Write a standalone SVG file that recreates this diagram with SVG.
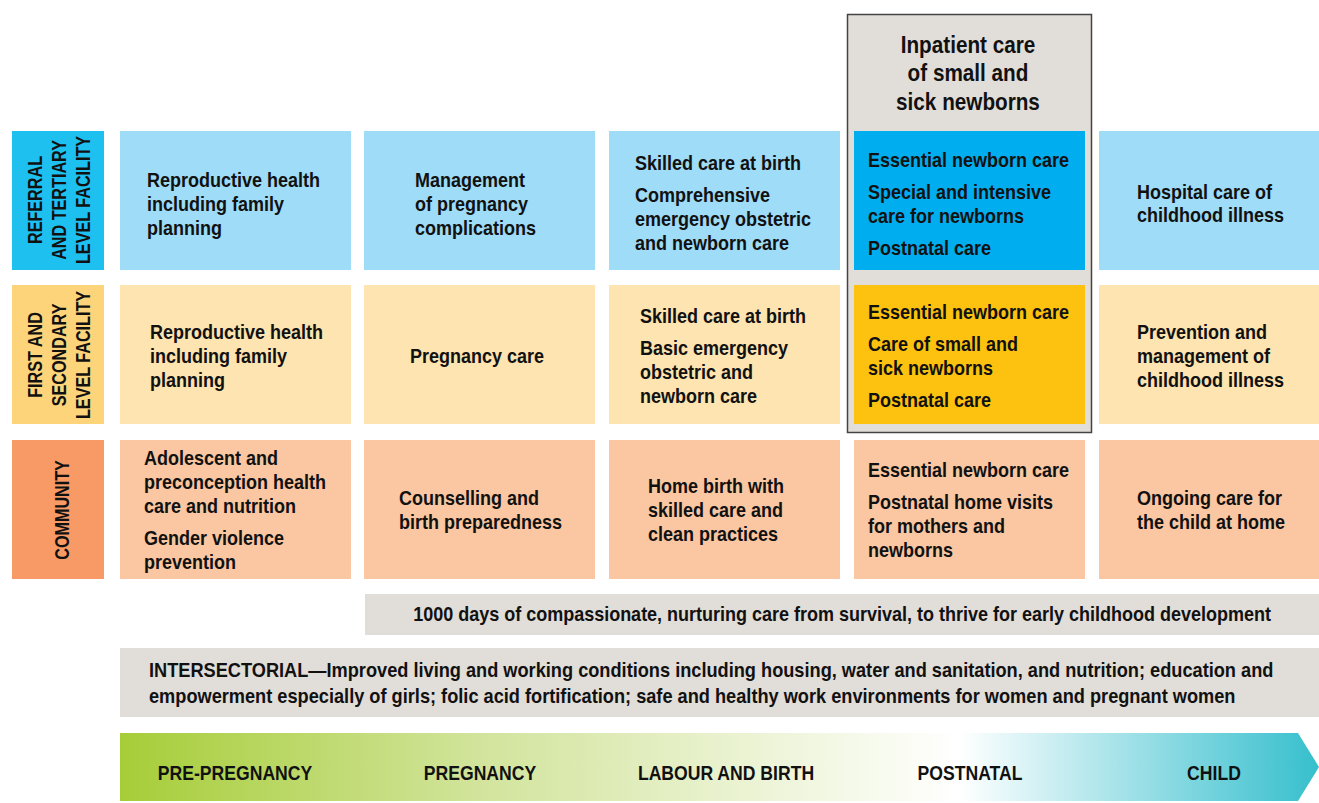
<svg xmlns="http://www.w3.org/2000/svg" width="1319" height="803" viewBox="0 0 1319 803">
<style>
text{font-family:"Liberation Sans",Arial,sans-serif;font-weight:bold;font-size:20px;fill:#111;transform-box:fill-box;transform-origin:0% 50%;transform:scaleX(0.9)}
.c{text-anchor:middle;transform-origin:50% 50%}
.lab{font-size:21px;transform:scaleX(0.77)}
.ph{font-size:20px;transform:scaleX(0.88)}
.hd{font-size:23px}
.is{transform:scaleX(0.91)}
.r1{fill:#9fdcf7}.r2{fill:#fde4b0}.r3{fill:#fac7a2}
</style>
<defs>
<linearGradient id="g" x1="120" y1="0" x2="1319" y2="0" gradientUnits="userSpaceOnUse">
<stop offset="0" stop-color="#a6cd38"/>
<stop offset="0.3" stop-color="#d2e49c"/>
<stop offset="0.7" stop-color="#ffffff"/>
<stop offset="1" stop-color="#36bfcd"/>
</linearGradient>
</defs>
<g id="inpatient">
<rect x="847.5" y="14.5" width="244" height="418" fill="#e1ddd8" stroke="#444" stroke-width="1.5"/>
<text class="c hd" x="968" y="53">Inpatient care</text>
<text class="c hd" x="968" y="81">of small and</text>
<text class="c hd" x="968" y="110">sick newborns</text>
</g>
<g id="row-labels">
<rect x="12" y="131" width="92" height="139" fill="#1ec0ef"/>
<g transform="translate(42,200) rotate(-90)"><text class="c lab" x="0" y="0">REFERRAL</text></g>
<g transform="translate(66,200) rotate(-90)"><text class="c lab" x="0" y="0">AND TERTIARY</text></g>
<g transform="translate(90,200) rotate(-90)"><text class="c lab" x="0" y="0">LEVEL FACILITY</text></g>
<rect x="12" y="285" width="92" height="139" fill="#fdd47a"/>
<g transform="translate(42,355) rotate(-90)"><text class="c lab" x="0" y="0">FIRST AND</text></g>
<g transform="translate(66,355) rotate(-90)"><text class="c lab" x="0" y="0">SECONDARY</text></g>
<g transform="translate(90,355) rotate(-90)"><text class="c lab" x="0" y="0">LEVEL FACILITY</text></g>
<rect x="12" y="440" width="92" height="139" fill="#f79a66"/>
<g transform="translate(69,510) rotate(-90)"><text class="c lab" x="0" y="0">COMMUNITY</text></g>
</g>
<g id="row1">
<rect class="r1" x="120" y="131" width="231" height="139"/>
<text x="147" y="187">Reproductive health</text><text x="147" y="211">including family</text><text x="147" y="235">planning</text>
<rect class="r1" x="364" y="131" width="231" height="139"/>
<text x="415" y="187">Management</text><text x="415" y="211">of pregnancy</text><text x="415" y="235">complications</text>
<rect class="r1" x="609" y="131" width="231" height="139"/>
<text x="635" y="170">Skilled care at birth</text><text x="635" y="202">Comprehensive</text><text x="635" y="226">emergency obstetric</text><text x="635" y="250">and newborn care</text>
<rect x="854" y="131" width="231" height="139" fill="#00aeef"/>
<text x="868" y="167">Essential newborn care</text><text x="868" y="199">Special and intensive</text><text x="868" y="223">care for newborns</text><text x="868" y="255">Postnatal care</text>
<rect class="r1" x="1099" y="131" width="220" height="139"/>
<text x="1137" y="199">Hospital care of</text><text x="1137" y="222">childhood illness</text>
</g>
<g id="row2">
<rect class="r2" x="120" y="285" width="231" height="139"/>
<text x="150" y="339">Reproductive health</text><text x="150" y="363">including family</text><text x="150" y="387">planning</text>
<rect class="r2" x="364" y="285" width="231" height="139"/>
<text x="410" y="363">Pregnancy care</text>
<rect class="r2" x="609" y="285" width="231" height="139"/>
<text x="640" y="323">Skilled care at birth</text><text x="640" y="355">Basic emergency</text><text x="640" y="379">obstetric and</text><text x="640" y="403">newborn care</text>
<rect x="854" y="285" width="231" height="139" fill="#fdc20f"/>
<text x="868" y="319">Essential newborn care</text><text x="868" y="351">Care of small and</text><text x="868" y="375">sick newborns</text><text x="868" y="407">Postnatal care</text>
<rect class="r2" x="1099" y="285" width="220" height="139"/>
<text x="1137" y="339">Prevention and</text><text x="1137" y="363">management of</text><text x="1137" y="387">childhood illness</text>
</g>
<g id="row3">
<rect class="r3" x="120" y="440" width="231" height="139"/>
<text x="144" y="465">Adolescent and</text><text x="144" y="489">preconception health</text><text x="144" y="513">care and nutrition</text><text x="144" y="545">Gender violence</text><text x="144" y="569">prevention</text>
<rect class="r3" x="364" y="440" width="231" height="139"/>
<text x="399" y="505">Counselling and</text><text x="399" y="529">birth preparedness</text>
<rect class="r3" x="609" y="440" width="231" height="139"/>
<text x="648" y="493">Home birth with</text><text x="648" y="517">skilled care and</text><text x="648" y="541">clean practices</text>
<rect class="r3" x="854" y="440" width="231" height="139"/>
<text x="868" y="477">Essential newborn care</text><text x="868" y="509">Postnatal home visits</text><text x="868" y="533">for mothers and</text><text x="868" y="557">newborns</text>
<rect class="r3" x="1099" y="440" width="220" height="139"/>
<text x="1137" y="505">Ongoing care for</text><text x="1137" y="529">the child at home</text>
</g>
<g id="band-1000">
<rect x="365" y="594" width="954" height="41" fill="#e1ddd8"/>
<text class="c" x="842" y="621">1000 days of compassionate, nurturing care from survival, to thrive for early childhood development</text>
</g>
<g id="intersectorial">
<rect x="120" y="648" width="1199" height="69" fill="#e1ddd8"/>
<text class="is" x="149" y="677">INTERSECTORIAL—Improved living and working conditions including housing, water and sanitation, and nutrition; education and</text>
<text class="is" x="149" y="703">empowerment especially of girls; folic acid fortification; safe and healthy work environments for women and pregnant women</text>
</g>
<g id="timeline">
<path d="M120 733 H1298 L1319 767 L1298 801 H120 Z" fill="url(#g)"/>
<text class="c ph" x="235" y="780">PRE-PREGNANCY</text>
<text class="c ph" x="480" y="780">PREGNANCY</text>
<text class="c ph" x="726" y="780">LABOUR AND BIRTH</text>
<text class="c ph" x="970" y="780">POSTNATAL</text>
<text class="c ph" x="1214" y="780">CHILD</text>
</g>
</svg>
